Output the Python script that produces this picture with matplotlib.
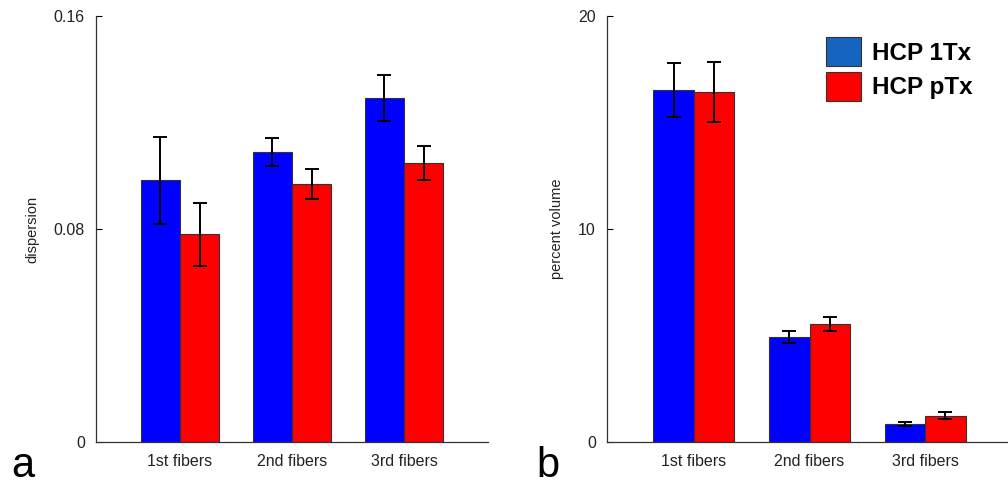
import matplotlib
matplotlib.use("Agg")
import matplotlib.pyplot as plt
import numpy as np
from matplotlib.patches import Patch

plt.rcParams['font.family'] = ['Liberation Sans', 'DejaVu Sans']

categories = ["1st fibers", "2nd fibers", "3rd fibers"]
series_names = ["HCP 1Tx", "HCP pTx"]

disp_1tx = [0.0983, 0.1089, 0.1292]
disp_1tx_err = [0.0163, 0.0052, 0.0086]
disp_ptx = [0.0780, 0.0970, 0.1047]
disp_ptx_err = [0.0119, 0.0056, 0.0064]

vol_1tx = [16.53, 4.93, 0.85]
vol_1tx_err = [1.27, 0.27, 0.11]
vol_ptx = [16.43, 5.54, 1.24]
vol_ptx_err = [1.39, 0.33, 0.15]

disp_ticks = [0, 0.08, 0.16]
disp_ticklabels = ["0", "0.08", "0.16"]
vol_ticks = [0, 10, 20]
vol_ticklabels = ["0", "10", "20"]

BLUE = "#0000ff"
RED = "#ff0000"
LEG_BLUE = "#1565c0"

fig = plt.figure(figsize=(10.08, 4.87), dpi=100)
ax1 = fig.add_axes([96/1008, 1-442/487, 392/1008, 426/487])
ax2 = fig.add_axes([607/1008, 1-442/487, 405/1008, 426/487])

x = np.arange(1, len(categories)+1)
w = 0.35

def draw(ax, a, ae, b, be, ylim, ticks, ticklabels, ylabel):
    ax.bar(x - w/2, a, w, color=BLUE, edgecolor="#333333", linewidth=0.8, zorder=2)
    ax.bar(x + w/2, b, w, color=RED, edgecolor="#333333", linewidth=0.8, zorder=2)
    ax.errorbar(x - w/2, a, yerr=ae, fmt='none', ecolor='black', elinewidth=1.4, capsize=5, capthick=1.4, zorder=3)
    ax.errorbar(x + w/2, b, yerr=be, fmt='none', ecolor='black', elinewidth=1.4, capsize=5, capthick=1.4, zorder=3)
    ax.set_xlim(0.25, 3.75)
    ax.set_ylim(*ylim)
    ax.set_yticks(ticks)
    ax.set_yticklabels(ticklabels, fontsize=11.5, color="#222222")
    ax.set_xticks(x)
    ax.set_xticklabels(categories, fontsize=11.5, color="#222222")
    ax.tick_params(axis='y', direction='in', length=4, width=0.8, pad=8)
    ax.tick_params(axis='x', length=0, pad=9)
    for s in ['top', 'right']:
        ax.spines[s].set_visible(False)
    for s in ['left', 'bottom']:
        ax.spines[s].set_linewidth(0.9)
        ax.spines[s].set_color("#333333")
    ax.set_ylabel(ylabel, fontsize=10.5, color="#222222", labelpad=10)

draw(ax1, disp_1tx, disp_1tx_err, disp_ptx, disp_ptx_err, (0, 0.16), disp_ticks, disp_ticklabels, "dispersion")
draw(ax2, vol_1tx, vol_1tx_err, vol_ptx, vol_ptx_err, (0, 20), vol_ticks, vol_ticklabels, "percent volume")

handles = [Patch(facecolor=LEG_BLUE, edgecolor="#333333", linewidth=0.8),
           Patch(facecolor=RED, edgecolor="#333333", linewidth=0.8)]
leg = ax2.legend(handles, series_names, loc='upper left', bbox_to_anchor=(202/405, 0.99),
                 frameon=False, prop={'weight': 'bold', 'size': 17.5},
                 handlelength=1.44, handleheight=1.44, labelspacing=0.25, handletextpad=0.45,
                 borderaxespad=0.3)

fig.text(11/1008, 1-477/487, "a", fontsize=30, color="black", ha='left', va='baseline')
fig.text(536/1008, 1-477/487, "b", fontsize=30, color="black", ha='left', va='baseline')

fig.savefig("out.png", dpi=100)
